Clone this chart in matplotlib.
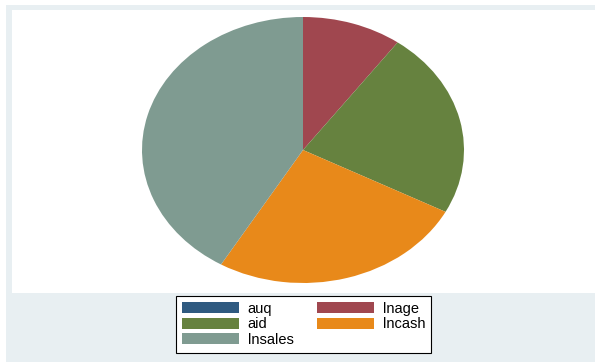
import matplotlib.pyplot as plt
from matplotlib.patches import Rectangle

# variable shares (in percent)
labels = ['auq', 'lnage', 'aid', 'lncash', 'lnsales']
values = [0.0, 10.0, 22.7, 25.8, 41.5]
colors = ['#2F5A80', '#A0474F', '#66823F', '#E8891A', '#7F9B91']

plt.rcParams['font.family'] = ['Liberation Sans', 'DejaVu Sans']

W, H = 595, 362
fig = plt.figure(figsize=(W / 100, H / 100), dpi=100, facecolor='white')

# light graph region behind the white plot region
fig.patches.append(Rectangle((6 / W, 0), 1 - 6 / W, 1 - 5 / H,
                             transform=fig.transFigure, facecolor='#E8EFF2',
                             edgecolor='none', zorder=-10))

ax = fig.add_axes([12 / W, 1 - 293 / H, 1 - 12 / W, (293 - 10) / H])
ax.set_zorder(1)

wedges, _ = ax.pie(values, colors=colors, startangle=90, counterclock=False,
                   radius=1.0, wedgeprops=dict(linewidth=0))
ax.set_aspect('auto')
# pie is drawn as an ellipse: x in units of 161 px, y in units of 133 px
cx, cy = 303, H - 150
ax.set_xlim((12 - cx) / 161, (W - cx) / 161)
ax.set_ylim(((H - 293) - cy) / 133, ((H - 10) - cy) / 133)
ax.axis('off')
ax.add_patch(Rectangle((0, 0), 1, 1, transform=ax.transAxes,
                       facecolor='white', edgecolor='none', zorder=-1))

# Stata fills the legend row by row; matplotlib column by column
order = [0, 2, 4, 1, 3]
leg = fig.legend([wedges[i] for i in order], [labels[i] for i in order],
                 ncol=2, loc='upper left',
                 bbox_to_anchor=(176 / W, 1 - 296 / H),
                 fontsize=10.5, frameon=True, fancybox=False,
                 handlelength=3.9, handleheight=0.82, handletextpad=0.62,
                 columnspacing=1.6, labelspacing=0.1, borderpad=0.4,
                 borderaxespad=0)
leg.set_zorder(5)
leg.get_frame().set_edgecolor('black')
leg.get_frame().set_linewidth(0.8)
leg.get_frame().set_facecolor('white')
leg.get_frame().set_alpha(1)

fig.savefig('out.png', dpi=100)
